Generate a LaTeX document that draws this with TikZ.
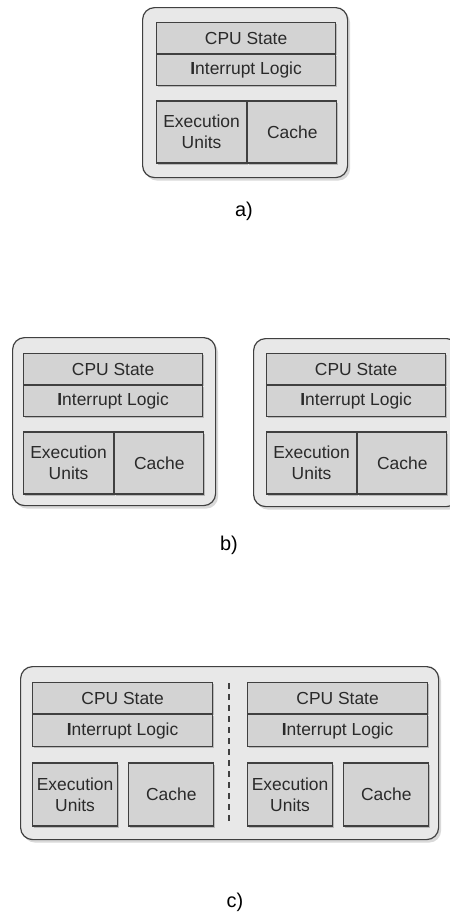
\documentclass[tikz,border=0pt]{standalone}
\usepackage{fontspec}
\setmainfont{Liberation Sans}
\usetikzlibrary{positioning, shadows}

\definecolor{chipfill}{HTML}{E8E8E8}
\definecolor{partfill}{HTML}{D3D3D3}
\definecolor{edge}{HTML}{404040}
\definecolor{ink}{HTML}{2A2A2A}

\tikzset{
  chip/.style={draw=edge, fill=chipfill, line width=1.2bp, rounded corners=12bp,
    inner sep=0pt, anchor=north west,
    drop shadow={shadow xshift=2.5bp, shadow yshift=-3bp, opacity=0.3}},
  part/.style={draw=edge, fill=partfill, line width=1.2bp, inner sep=0pt,
    anchor=north west, align=center, text=ink,
    font=\fontsize{17.5}{21}\selectfont,
    drop shadow={shadow xshift=1.5bp, shadow yshift=-1.5bp, opacity=0.45}},
  caption/.style={font=\fontsize{20}{24}\selectfont, text=black}
}

\begin{document}
\begin{tikzpicture}[x=1bp, y=-1bp]
  \useasboundingbox (0,0) rectangle (450,916);
  \clip (0,0) rectangle (450,916);

  % outer packages
  \node[chip, minimum width=205bp, minimum height=170bp] (chipA) at (142,7) {};
  \node[chip, minimum width=203bp, minimum height=168bp] (chipB) at (12,337) {};
  \node[chip, minimum width=205bp, minimum height=168bp] (chipBB) at (253,338) {};
  \node[chip, minimum width=418bp, minimum height=173bp] (chipC) at (20,666) {};

  % cores with one shared execution block
  \foreach \px/\py/\n in {156/22/a, 23/353/b, 266/353/bb} {
    \node[part, minimum width=179bp, minimum height=31bp] (state\n) at (\px,\py) {CPU State};
    \node[part, minimum width=179bp, minimum height=31bp] (logic\n) at (state\n.south west) {{\bfseries I}nterrupt Logic};
    \node[part, minimum width=90bp, minimum height=62bp, below=14bp of logic\n.south west, anchor=north west] (exec\n) {Execution\\Units};
    \node[part, minimum width=89bp, minimum height=62bp] (cache\n) at (exec\n.north east) {Cache};
  }

  % two cores in one package
  \foreach \px/\n in {32/c, 247/cc} {
    \node[part, minimum width=180bp, minimum height=31bp] (state\n) at (\px,682) {CPU State};
    \node[part, minimum width=180bp, minimum height=32bp] (logic\n) at (state\n.south west) {{\bfseries I}nterrupt Logic};
    \node[part, minimum width=85bp, minimum height=63bp, below=15bp of logic\n.south west, anchor=north west] (exec\n) {Execution\\Units};
    \node[part, minimum width=85bp, minimum height=63bp, right=10bp of exec\n.north east, anchor=north west] (cache\n) {Cache};
  }

  \coordinate (sepTop) at (229,683);
  \coordinate (sepBot) at (229,822);
  \draw[edge, line width=1.6bp, dash pattern=on 6bp off 5bp] (sepTop) -- (sepBot);

  % captions
  \node[caption] (capA) at (244,211) {a)};
  \node[caption] (capB) at (229,545) {b)};
  \node[caption] (capC) at (235,902) {c)};
\end{tikzpicture}
\end{document}
